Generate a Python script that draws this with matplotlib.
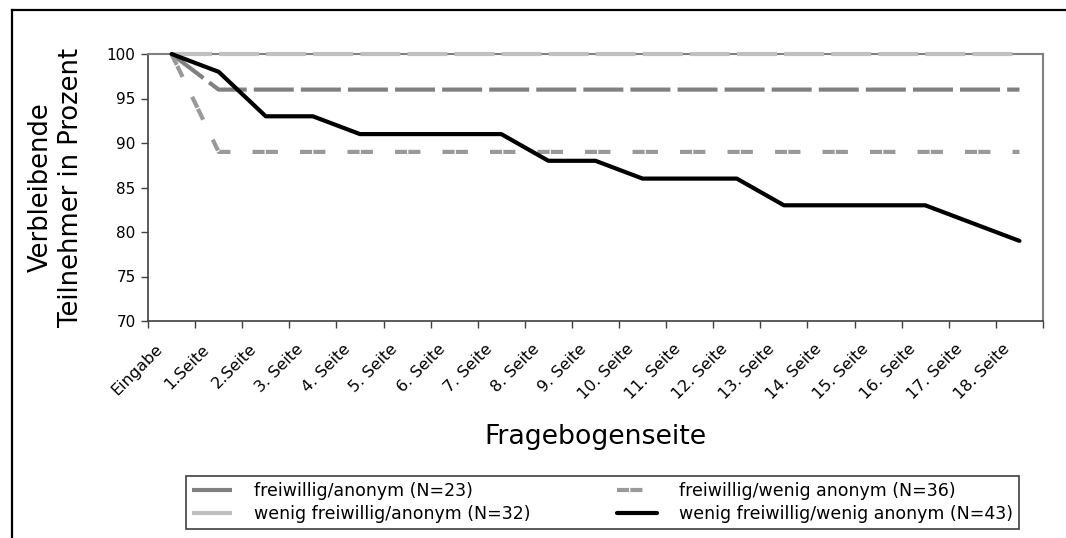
import numpy as np
import matplotlib
matplotlib.use('Agg')
import matplotlib.pyplot as plt
import matplotlib.transforms as mtransforms
from matplotlib.lines import Line2D

# Fragebogenseiten (Kategorien)
seiten = ['Eingabe', '1.Seite', '2.Seite', '3. Seite', '4. Seite', '5. Seite',
          '6. Seite', '7. Seite', '8. Seite', '9. Seite', '10. Seite',
          '11. Seite', '12. Seite', '13. Seite', '14. Seite', '15. Seite',
          '16. Seite', '17. Seite', '18. Seite']

# verbleibende Teilnehmer in Prozent
freiwillig_anonym = [100] + [96] * 18
freiwillig_wenig_anonym = [100] + [89] * 18
wenig_freiwillig_anonym = [100] * 19
wenig_freiwillig_wenig_anonym = [100, 98, 93, 93, 91, 91, 91, 91, 88, 88,
                                 86, 86, 86, 83, 83, 83, 83, 81, 79]

labels = ['freiwillig/anonym (N=23)', 'wenig freiwillig/anonym (N=32)',
          'freiwillig/wenig anonym (N=36)', 'wenig freiwillig/wenig anonym (N=43)']

W, H = 1066, 538
fig = plt.figure(figsize=(W / 100, H / 100), dpi=100)
ax = fig.add_axes([148 / W, 1 - 321 / H, (1043 - 148) / W, (321 - 54) / H])

x = np.arange(len(seiten))
lw = 3.0
ax.plot(x, freiwillig_anonym, color='#808080', lw=lw, dashes=(9.6, 1.7),
        label=labels[0], zorder=3)
ax.plot(x, wenig_freiwillig_anonym, color='#c0c0c0', lw=lw, dashes=(9.6, 1.7),
        label=labels[1], zorder=3, clip_on=False)
ax.plot(x, freiwillig_wenig_anonym, color='#999999', lw=lw,
        dashes=(2.9, 0.3, 2.9, 5.3), label=labels[2], zorder=3)
ax.plot(x, wenig_freiwillig_wenig_anonym, color='black', lw=lw,
        solid_capstyle='round', solid_joinstyle='round',
        label=labels[3], zorder=4, clip_on=False)

ax.set_xlim(-0.5, len(seiten) - 0.5)
ax.set_ylim(70, 100)
ax.set_yticks(np.arange(70, 101, 5))
ax.set_xticks(x)
ax.set_xticklabels(seiten, rotation=45, ha='right', rotation_mode='anchor',
                   fontsize=11.5)
ax.set_xticks(np.arange(-0.5, len(seiten)), minor=True)
ax.tick_params(axis='x', which='major', length=0, pad=9)
ax.tick_params(axis='x', which='minor', length=5, width=1, color='#404040',
               direction='out')
ax.tick_params(axis='y', length=5, width=1, color='#404040', labelsize=11,
               pad=4)

# Beschriftungen etwas nach links unten schieben (wie im Original)
shift = mtransforms.ScaledTranslation(-17 / 100, -8 / 100, fig.dpi_scale_trans)
for lab in ax.get_xticklabels():
    lab.set_transform(lab.get_transform() + shift)

for side in ['left', 'bottom']:
    ax.spines[side].set_color('#404040')
    ax.spines[side].set_linewidth(1.2)
for side in ['top', 'right']:
    ax.spines[side].set_color('#808080')
    ax.spines[side].set_linewidth(1.5)

fig.text(56 / W, 1 - 187 / H, 'Verbleibende\nTeilnehmer in Prozent',
         rotation=90, ha='center', va='center', multialignment='center',
         fontsize=18.5)
fig.text(595 / W, 1 - 437 / H, 'Fragebogenseite', ha='center', va='center',
         fontsize=19.3)

fs = 12.5
leg = ax.legend(ncol=2, loc='upper left', fontsize=fs,
                bbox_to_anchor=(186 / W, 1 - 476 / H),
                bbox_transform=fig.transFigure, borderaxespad=0,
                handlelength=2.3, handletextpad=1.26, borderpad=0.35,
                columnspacing=5.0, labelspacing=0.3,
                fancybox=False, framealpha=1)
leg.get_frame().set_edgecolor('#404040')
leg.get_frame().set_linewidth(1.2)

# äußerer Rahmen (nur links und oben sichtbar)
fig.add_artist(Line2D([12 / W, 12 / W], [0, 1 - 10 / H], transform=fig.transFigure,
                      color='black', lw=1.6))
fig.add_artist(Line2D([12 / W, 1], [1 - 10 / H, 1 - 10 / H], transform=fig.transFigure,
                      color='black', lw=1.6))

fig.savefig('out.png', dpi=100)
